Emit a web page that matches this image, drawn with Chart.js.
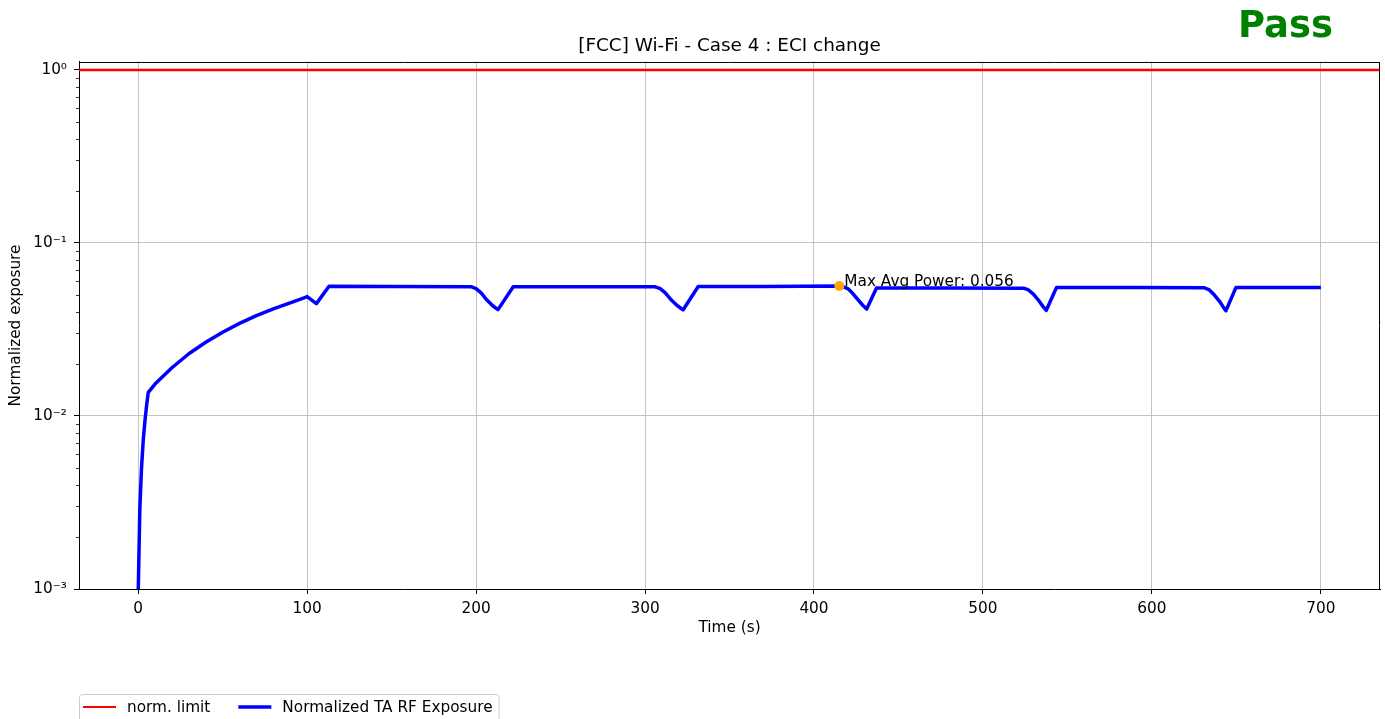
<!DOCTYPE html>
<html><head><meta charset="utf-8">
<script src="https://cdn.jsdelivr.net/npm/chart.js@4/dist/chart.umd.min.js"></script>
<style>html,body{margin:0;padding:0;background:#fff;overflow:hidden;} canvas{display:block;}</style>
</head><body>
<canvas id="c" width="1385" height="719"></canvas>
<script>
// ---- data ----
const timeS = [
  0, 1, 2, 3, 4, 5, 6, 10, 20, 30, 40, 50, 60, 70, 80, 90, 99, 100, 105.5, 113,
  150, 197, 200, 203, 206, 210, 213, 222,
  260, 306, 309, 312, 315, 319, 322.5, 331.5,
  370, 415, 417, 420, 423, 426, 429, 431.2, 437,
  480, 524, 527, 530, 533, 535.5, 537.5, 543.5,
  590, 631, 634, 637, 640, 642, 643.8, 649.7, 700
];
const exposure = [
  0.0009, 0.0029, 0.0050, 0.0072, 0.0093, 0.0115, 0.0137, 0.0153, 0.0190, 0.0229, 0.0267, 0.0305, 0.0343, 0.0380, 0.0416, 0.0451, 0.0485, 0.0490, 0.0446, 0.0562,
  0.0561, 0.0559, 0.0545, 0.0515, 0.0473, 0.0432, 0.0412, 0.0559,
  0.0559, 0.0558, 0.0545, 0.0515, 0.0475, 0.0435, 0.0410, 0.0560,
  0.0561, 0.0564, 0.0560, 0.0545, 0.0510, 0.0470, 0.0435, 0.0415, 0.0550,
  0.0549, 0.0548, 0.0535, 0.0505, 0.0465, 0.0430, 0.0408, 0.0552,
  0.0552, 0.0551, 0.0535, 0.0500, 0.0460, 0.0430, 0.0406, 0.0552, 0.0552
];
const limitTime = [-35, 735];
const limitValue = [1, 1];
const maxTime = [415];
const maxValue = [0.0564];
const xTicks = [0, 100, 200, 300, 400, 500, 600, 700];
const yMajorTicks = [0.001, 0.01, 0.1, 1];
const yTickLabels = ['10\u207B\u00B3', '10\u207B\u00B2', '10\u207B\u00B9', '10\u2070'];
const seriesLabels = ['norm. limit', 'Normalized TA RF Exposure'];
const titleText = '[FCC] Wi-Fi - Case 4 : ECI change';
const verdictText = 'Pass';
const xAxisTitle = 'Time (s)';
const yAxisTitle = 'Normalized exposure';
const annotationText = 'Max Avg Power: 0.056';

// ---- helpers ----
const FONT = '"DejaVu Sans", "Liberation Sans", sans-serif';
const FS = 15.3;
const toPts = (xs, ys) => xs.map((x, i) => ({x: x, y: ys[i]}));
const yMinorTicks = [];
for (let i = 0; i < yMajorTicks.length - 1; i++) {
  for (let k = 2; k <= 9; k++) yMinorTicks.push(yMajorTicks[i] * k);
}
const isMajor = v => yMajorTicks.some(m => Math.abs(m - v) / m < 1e-6);

const extrasPlugin = {
  id: 'extras',
  afterDraw(chart) {
    const ctx = chart.ctx, a = chart.chartArea, y = chart.scales.y;
    ctx.save();
    // top and right spines
    ctx.strokeStyle = '#000'; ctx.lineWidth = 1;
    ctx.beginPath();
    ctx.moveTo(a.left, a.top + 0.5); ctx.lineTo(a.right, a.top + 0.5);
    ctx.moveTo(a.right - 0.5, a.top); ctx.lineTo(a.right - 0.5, a.bottom);
    ctx.stroke();
    // minor y ticks
    ctx.lineWidth = 0.8;
    ctx.beginPath();
    yMinorTicks.forEach(v => {
      const py = Math.round(y.getPixelForValue(v)) + 0.5;
      ctx.moveTo(a.left - 3, py); ctx.lineTo(a.left, py);
    });
    ctx.stroke();
    // annotation of max point
    const p = chart.getDatasetMeta(2).data[0];
    ctx.font = FS + 'px ' + FONT; ctx.fillStyle = '#000';
    ctx.textBaseline = 'alphabetic'; ctx.textAlign = 'left';
    ctx.fillText(annotationText, p.x + 5, p.y);
    // verdict
    ctx.font = 'bold 37px ' + FONT; ctx.fillStyle = '#008000';
    ctx.fillText(verdictText, 1238, 37);
    // legend (matplotlib style, below the axes)
    ctx.font = FS + 'px ' + FONT;
    const ds = [chart.data.datasets[0], chart.data.datasets[1]];
    const lx = a.left, ly = a.bottom + 105, cy = ly + 13;
    const widths = ds.map(d => ctx.measureText(d.label).width);
    const totalW = 4 + 33 + 11 + widths[0] + 28 + 33 + 11 + widths[1] + 6;
    ctx.beginPath();
    if (ctx.roundRect) ctx.roundRect(lx + 0.5, ly + 0.5, totalW, 40, 3); else ctx.rect(lx + 0.5, ly + 0.5, totalW, 40);
    ctx.fillStyle = 'rgba(255,255,255,0.8)'; ctx.fill();
    ctx.strokeStyle = '#cccccc'; ctx.lineWidth = 1; ctx.stroke();
    let x = lx + 4;
    ds.forEach((d, i) => {
      ctx.strokeStyle = d.borderColor; ctx.lineWidth = i === 0 ? 2 : 3.5;
      ctx.beginPath(); ctx.moveTo(x, cy); ctx.lineTo(x + 33, cy); ctx.stroke();
      ctx.fillStyle = '#000'; ctx.textBaseline = 'middle';
      ctx.fillText(d.label, x + 44, cy + 1);
      x += 44 + widths[i] + 28;
    });
    ctx.restore();
  }
};

new Chart(document.getElementById('c'), {
  type: 'line',
  data: {
    datasets: [
      {label: seriesLabels[0], data: toPts(limitTime, limitValue), borderColor: '#ff0000', borderWidth: 2.5, pointRadius: 0, order: 3},
      {label: seriesLabels[1], data: toPts(timeS, exposure), borderColor: '#0000ff', borderWidth: 3.5, pointRadius: 0, order: 2, clip: 0, borderJoinStyle: 'round', tension: 0},
      {label: 'max', data: toPts(maxTime, maxValue), showLine: false, pointRadius: 5, pointBackgroundColor: '#ffa500', pointBorderWidth: 0, order: 1}
    ]
  },
  options: {
    responsive: false, animation: false, devicePixelRatio: 1,
    layout: {padding: {left: 0, right: 4, top: 0, bottom: 0}},
    plugins: {
      legend: {display: false},
      tooltip: {enabled: false},
      title: {display: true, text: titleText, fullSize: false, color: '#000',
        font: {family: FONT, size: 18.4, weight: 'normal'}, padding: {top: 35, bottom: 4.9}}
    },
    scales: {
      x: {
        type: 'linear', min: limitTime[0], max: limitTime[1],
        afterBuildTicks: s => { s.ticks = xTicks.map(v => ({value: v})); },
        afterFit: s => { s.height = 130; },
        ticks: {font: {family: FONT, size: FS}, color: '#000', padding: 6, maxRotation: 0, autoSkip: false, callback: v => String(v)},
        grid: {color: '#c4c4c4', lineWidth: 1, tickLength: 5, tickColor: '#000'},
        border: {color: '#000', width: 1},
        title: {display: true, text: xAxisTitle, color: '#000', font: {family: FONT, size: FS}, padding: {top: 0, bottom: 81.8}}
      },
      y: {
        type: 'logarithmic', min: yMajorTicks[0], max: 1.112,
        afterBuildTicks: s => { s.ticks = yMajorTicks.concat(yMinorTicks).sort((p, q) => p - q).map(v => ({value: v, major: isMajor(v)})); },
        afterFit: s => { s.width = 79; },
        ticks: {font: {family: FONT, size: FS}, color: '#000', padding: 7, autoSkip: false,
          callback: v => { const i = yMajorTicks.findIndex(m => Math.abs(m - v) / m < 1e-6); return i >= 0 ? yTickLabels[i] : ''; }},
        grid: {
          color: c => (c.tick && isMajor(c.tick.value)) ? '#c4c4c4' : 'rgba(0,0,0,0)',
          tickColor: c => (c.tick && isMajor(c.tick.value)) ? '#000' : 'rgba(0,0,0,0)',
          lineWidth: 1, tickLength: 5
        },
        border: {color: '#000', width: 1},
        title: {display: true, text: yAxisTitle, color: '#000', font: {family: FONT, size: FS}, padding: {top: 6.8, bottom: 0}}
      }
    }
  },
  plugins: [extrasPlugin]
});
</script>
</body></html>
